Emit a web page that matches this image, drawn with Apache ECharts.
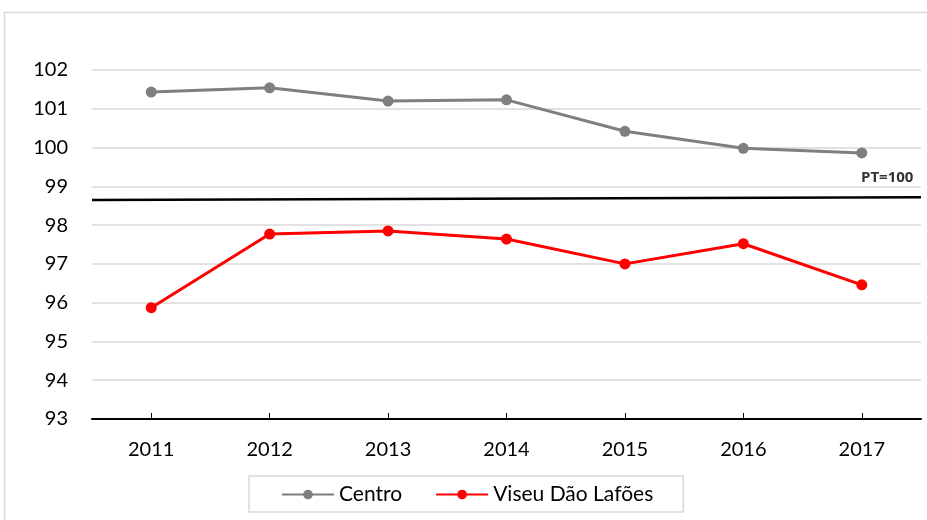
<!DOCTYPE html>
<html>
<head>
<meta charset="utf-8">
<script src="https://cdn.jsdelivr.net/npm/echarts@6/dist/echarts.min.js"></script>
<style>
  html, body { margin: 0; padding: 0; background: #fff; }
  #main { width: 927px; height: 520px; }
</style>
</head>
<body>
<div id="main"></div>
<script>
// dados
const years = ['2011', '2012', '2013', '2014', '2015', '2016', '2017']
const centro = [101.43, 101.54, 101.2, 101.23, 100.42, 99.98, 99.86]
const viseu = [95.87, 97.77, 97.85, 97.64, 97.0, 97.52, 96.46]
// linha de referência PT=100 (ligeiramente inclinada no original)
const ptLine = [[0, 98.65], [1, 98.72]]
const ptLabel = 'PT=100'

const font = 'Lato'
const chart = echarts.init(document.getElementById('main'))

chart.setOption({
  animation: false,
  textStyle: { fontFamily: font },
  graphic: [
    {
      type: 'rect',
      shape: { x: 4.5, y: 12.5, width: 940, height: 540 },
      style: { fill: 'none', stroke: '#d9d9d9', lineWidth: 1.5 },
      z: -1
    }
  ],
  grid: { left: 92, right: 6, top: 70, bottom: 101 },
  legend: {
    left: 249,
    top: 476,
    padding: [8, 30, 7, 32],
    itemGap: 33,
    itemWidth: 52,
    itemHeight: 12,
    borderColor: '#d9d9d9',
    borderWidth: 1.5,
    textStyle: { fontSize: 21, color: '#000', fontFamily: font },
    data: ['Centro', 'Viseu Dão Lafões']
  },
  xAxis: [
    {
      type: 'category',
      data: years,
      boundaryGap: true,
      axisLine: { lineStyle: { color: '#000', width: 2 } },
      axisTick: { show: true, inside: true, alignWithLabel: true, length: 6, lineStyle: { color: '#000', width: 1 } },
      axisLabel: { fontSize: 20, color: '#000', margin: 21, fontFamily: font },
      splitLine: { show: false }
    },
    {
      type: 'value',
      min: 0,
      max: 1,
      show: false,
      position: 'bottom'
    }
  ],
  yAxis: {
    type: 'value',
    min: 93,
    max: 102,
    interval: 1,
    axisLine: { show: false },
    axisTick: { show: false },
    axisLabel: { fontSize: 20, color: '#000', margin: 24, fontFamily: font },
    splitLine: { lineStyle: { color: '#d9d9d9', width: 1.5 } }
  },
  series: [
    {
      name: 'PT',
      type: 'line',
      xAxisIndex: 1,
      data: ptLine,
      symbol: 'none',
      lineStyle: { color: '#000', width: 2.5 },
      endLabel: {
        show: true,
        formatter: ptLabel,
        color: '#333',
        fontWeight: 'bold',
        fontSize: 15,
        fontFamily: 'Open Sans',
        offset: [-68, -19]
      },
      z: 1,
      silent: true
    },
    {
      name: 'Centro',
      type: 'line',
      data: centro,
      symbol: 'circle',
      symbolSize: 11,
      itemStyle: { color: '#7f7f7f' },
      lineStyle: { color: '#7f7f7f', width: 3 },
      z: 3
    },
    {
      name: 'Viseu Dão Lafões',
      type: 'line',
      data: viseu,
      symbol: 'circle',
      symbolSize: 11,
      itemStyle: { color: '#ff0000' },
      lineStyle: { color: '#ff0000', width: 3 },
      z: 3
    }
  ]
})
</script>
</body>
</html>
